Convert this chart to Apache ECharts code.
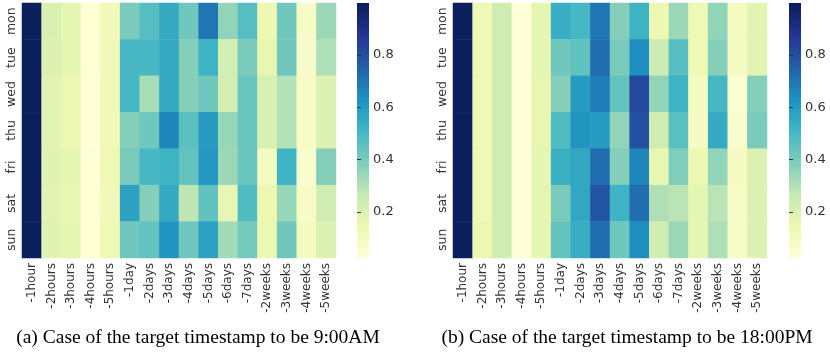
<!DOCTYPE html>
<html>
<head>
<meta charset="utf-8">
<style>
  html, body { margin: 0; padding: 0; background: #fff; }
  #chart { width: 830px; height: 360px; }
</style>
<script src="https://cdn.jsdelivr.net/npm/echarts@6/dist/echarts.min.js"></script>
</head>
<body>
<div id="chart"></div>
<script>
// categories
const lags = ['-1hour', '-2hours', '-3hours', '-4hours', '-5hours',
  '-1day', '-2days', '-3days', '-4days', '-5days', '-6days', '-7days',
  '-2weeks', '-3weeks', '-4weeks', '-5weeks']
const days = ['mon', 'tue', 'wed', 'thu', 'fri', 'sat', 'sun']

// (a) target timestamp 9:00AM, one row per day
const valuesAM = [
  [0.99, 0.21, 0.17, 0.04, 0.12, 0.40, 0.47, 0.55, 0.42, 0.70, 0.36, 0.47, 0.14, 0.42, 0.08, 0.34],
  [0.99, 0.20, 0.17, 0.04, 0.12, 0.50, 0.50, 0.55, 0.38, 0.52, 0.23, 0.40, 0.16, 0.42, 0.07, 0.31],
  [0.99, 0.18, 0.15, 0.03, 0.12, 0.50, 0.32, 0.55, 0.38, 0.42, 0.23, 0.43, 0.21, 0.30, 0.08, 0.20],
  [0.99, 0.18, 0.15, 0.03, 0.12, 0.38, 0.42, 0.66, 0.46, 0.60, 0.35, 0.43, 0.21, 0.30, 0.08, 0.20],
  [0.99, 0.19, 0.17, 0.04, 0.13, 0.40, 0.50, 0.52, 0.44, 0.61, 0.34, 0.43, 0.10, 0.52, 0.06, 0.38],
  [0.99, 0.18, 0.16, 0.04, 0.12, 0.58, 0.38, 0.55, 0.28, 0.45, 0.16, 0.48, 0.14, 0.35, 0.08, 0.24],
  [0.99, 0.19, 0.17, 0.04, 0.13, 0.42, 0.44, 0.62, 0.42, 0.58, 0.33, 0.41, 0.15, 0.42, 0.10, 0.20]
]

// (b) target timestamp 18:00PM
const valuesPM = [
  [0.99, 0.13, 0.24, 0.03, 0.17, 0.54, 0.50, 0.70, 0.38, 0.52, 0.14, 0.34, 0.13, 0.36, 0.10, 0.18],
  [0.99, 0.13, 0.24, 0.03, 0.17, 0.42, 0.45, 0.72, 0.40, 0.64, 0.25, 0.47, 0.13, 0.38, 0.10, 0.18],
  [0.99, 0.13, 0.24, 0.03, 0.16, 0.38, 0.60, 0.68, 0.44, 0.82, 0.36, 0.52, 0.10, 0.50, 0.05, 0.38],
  [0.99, 0.13, 0.24, 0.03, 0.16, 0.48, 0.62, 0.60, 0.36, 0.80, 0.24, 0.46, 0.09, 0.55, 0.06, 0.40],
  [0.99, 0.13, 0.24, 0.03, 0.17, 0.53, 0.56, 0.72, 0.38, 0.66, 0.16, 0.39, 0.14, 0.36, 0.09, 0.20],
  [0.99, 0.13, 0.24, 0.03, 0.17, 0.40, 0.56, 0.78, 0.52, 0.72, 0.31, 0.29, 0.17, 0.29, 0.08, 0.20],
  [0.99, 0.15, 0.24, 0.03, 0.17, 0.44, 0.54, 0.72, 0.42, 0.64, 0.24, 0.34, 0.17, 0.31, 0.08, 0.20]
]

// colour bar range and ticks
const vMin = 0.024
const vMax = 0.999
const cbarTicks = [0.2, 0.4, 0.6, 0.8]
const captions = ['(a) Case of the target timestamp to be 9:00AM', '(b) Case of the target timestamp to be 18:00PM']

const ylgnbu = ['#ffffd9', '#edf8b1', '#c7e9b4', '#7fcdbb', '#41b6c4', '#1d91c0', '#225ea8', '#253494', '#081d58']
const labelFont = 'DejaVu Sans'
const txtColor = '#333'

function toCells(rows) {
  const out = []
  rows.forEach((row, y) => row.forEach((v, x) => out.push([x, y, v])))
  return out
}

// gradient for the colour bar background (bottom = low)
const barGradient = {
  type: 'linear', x: 0, y: 1, x2: 0, y2: 0,
  colorStops: ylgnbu.map((c, i) => ({ offset: i / (ylgnbu.length - 1), color: c }))
}

const panels = [
  { left: 22, cbar: 357, data: valuesAM, cx: 198 },
  { left: 453, cbar: 789, data: valuesPM, cx: 627 }
]

const grid = []
const xAxis = []
const yAxis = []
const series = []
const visualMap = []
const graphic = []

panels.forEach((p, i) => {
  // heatmap grid
  grid.push({ left: p.left, top: 3, width: 314, height: 255 })
  xAxis.push({
    type: 'category', gridIndex: 2 * i, data: lags,
    axisLine: { show: false },
    axisTick: { alignWithLabel: true, length: 4, lineStyle: { color: txtColor } },
    axisLabel: { rotate: 90, fontSize: 12, fontFamily: labelFont, color: txtColor, margin: 5, interval: 0 },
    splitLine: { show: false }
  })
  yAxis.push({
    type: 'category', gridIndex: 2 * i, data: days, inverse: true,
    axisLine: { show: false },
    axisTick: { alignWithLabel: true, length: 3, lineStyle: { color: txtColor } },
    axisLabel: { rotate: 90, fontSize: 12.5, fontFamily: labelFont, color: txtColor, margin: 4 },
    splitLine: { show: false }
  })
  series.push({
    type: 'heatmap', xAxisIndex: 2 * i, yAxisIndex: 2 * i,
    data: toCells(p.data),
    emphasis: { disabled: true }
  })
  visualMap.push({
    type: 'continuous', show: false, seriesIndex: 2 * i,
    min: vMin, max: vMax, inRange: { color: ylgnbu }
  })

  // colour bar grid
  grid.push({
    left: p.cbar, top: 3, width: 12, height: 255,
    show: true, borderWidth: 0, backgroundColor: barGradient
  })
  xAxis.push({ type: 'value', gridIndex: 2 * i + 1, show: false })
  yAxis.push({
    type: 'value', gridIndex: 2 * i + 1, position: 'right',
    min: vMin, max: vMax,
    axisLine: { show: false },
    axisTick: { show: true, length: 4, customValues: cbarTicks, lineStyle: { color: txtColor } },
    axisLabel: { customValues: cbarTicks, fontSize: 13, fontFamily: labelFont, color: txtColor, margin: 4 },
    splitLine: { show: false }
  })
  series.push({ type: 'line', xAxisIndex: 2 * i + 1, yAxisIndex: 2 * i + 1, data: [] })

  graphic.push({
    type: 'text', x: p.cx, y: 338,
    style: {
      text: captions[i], textAlign: 'center', textVerticalAlign: 'middle',
      fontFamily: 'Liberation Serif', fontSize: 19.5, fill: '#000'
    }
  })
})

const chart = echarts.init(document.getElementById('chart'), null, { renderer: 'canvas' })
chart.setOption({
  animation: false,
  backgroundColor: '#fff',
  grid, xAxis, yAxis, series, visualMap, graphic
})
</script>
</body>
</html>
